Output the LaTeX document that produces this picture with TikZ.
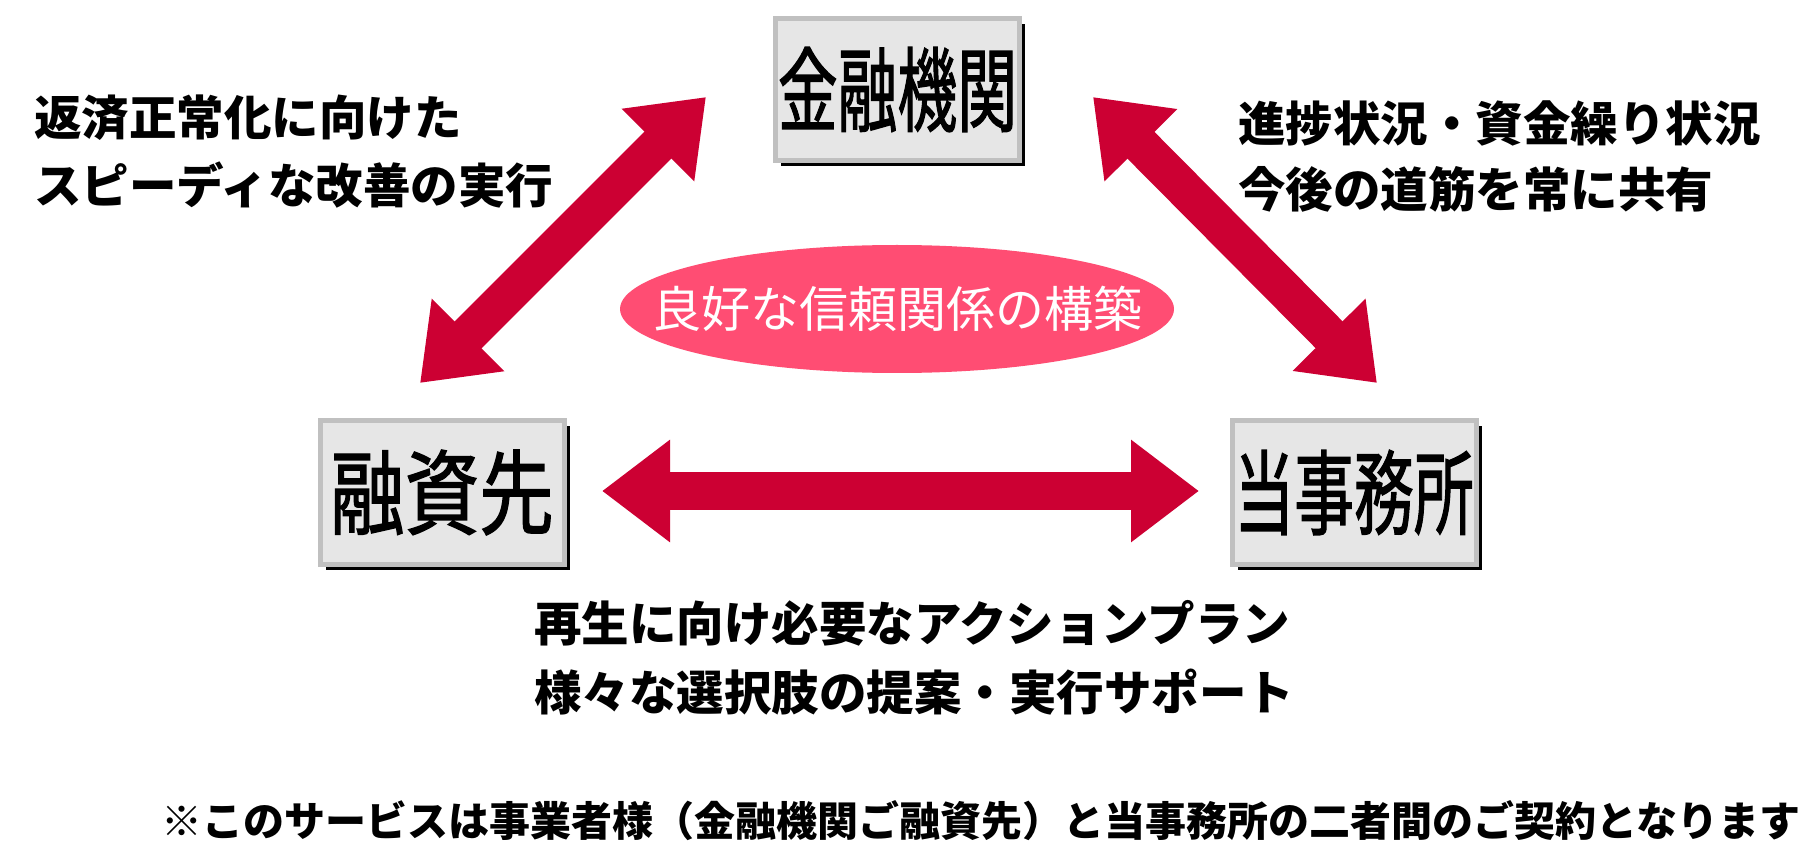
\documentclass[tikz,border=0pt]{standalone}
\usepackage{graphicx}
\usepackage{fontspec}
\newfontfamily\jpfont{Noto Sans CJK JP}
\newfontfamily\jpboxfont{Noto Sans CJK JP}[FakeBold=1.6]
\usetikzlibrary{arrows.meta,shadows,shapes.geometric,calc,positioning}

\definecolor{arrowred}{RGB}{204,0,51}
\definecolor{ovalpink}{RGB}{255,77,115}
\definecolor{boxgray}{RGB}{230,230,230}
\definecolor{boxline}{RGB}{192,192,192}

\tikzset{
  party/.style={draw=boxline, line width=5pt, fill=boxgray,
    minimum width=244pt, minimum height=142pt, inner sep=0pt,
    font=\jpboxfont\fontsize{92}{92}\selectfont,
    drop shadow={shadow xshift=5.5pt, shadow yshift=-5.5pt, fill=black, opacity=1}},
  oval/.style={ellipse, fill=ovalpink, minimum width=554pt, minimum height=128pt,
    inner sep=0pt, text=white, font=\jpfont\fontsize{49}{49}\selectfont},
  note/.style={anchor=west, align=left, inner sep=0pt},
  notefont/.style={font=\jpfont\bfseries\fontsize{47.5}{#1}\selectfont},
  bigarrow/.style={arrowred, line width=38pt,
    {Triangle[width=98pt,length=68pt]}-{Triangle[width=98pt,length=68pt]}},
}

\begin{document}
\begin{tikzpicture}[x=1pt,y=-1pt]
  \useasboundingbox (0,0) rectangle (1800,850);
  \fill[white] (0,0) rectangle (1800,850);

  % the three parties
  \node[party] (bank) at (897.5,89.5) {\scalebox{0.65}[1]{金融機関}};
  \node[party, minimum height=144pt] (client) at (442,492.5) {\scalebox{0.81}[1]{融資先}};
  \node[party, minimum height=144pt] (office) at (1354,492.5) {\scalebox{0.65}[1]{当事務所}};

  % relationship in the middle
  \node[oval] (trust) at (897,309) {\makebox[0pt][c]{良好な信頼関係の構築}};

  % arrow ends
  \coordinate (bank-l) at ($(bank.center)+(-191.5,7.5)$);
  \coordinate (bank-r) at ($(bank.center)+(195.5,7.5)$);
  \coordinate (client-t) at ($(client.center)+(-22,-109.5)$);
  \coordinate (client-r) at ($(client.center)+(160,-1.5)$);
  \coordinate (office-t) at ($(office.center)+(23,-109.5)$);
  \coordinate (office-l) at ($(office.center)+(-155,-1.5)$);

  \draw[bigarrow] (client-t) -- (bank-l);
  \draw[bigarrow] (bank-r) -- (office-t);
  \draw[bigarrow] (client-r) -- (office-l);

  % notes
  \node[note, notefont=68] (repay) at (34,152) {返済正常化に向けた\\スピーディな改善の実行};
  \node[note, notefont=66] (share) at (1238,156) {進捗状況・資金繰り状況\\今後の道筋を常に共有};
  \node[note, notefont=69] (plan) at (534,657.5) {再生に向け必要なアクションプラン\\様々な選択肢の提案・実行サポート};
  \node[note, font=\jpfont\bfseries\fontsize{41}{41}\selectfont] (contract) at (161,821)
    {※このサービスは事業者様（金融機関ご融資先）と当事務所の二者間のご契約となります};
\end{tikzpicture}
\end{document}
